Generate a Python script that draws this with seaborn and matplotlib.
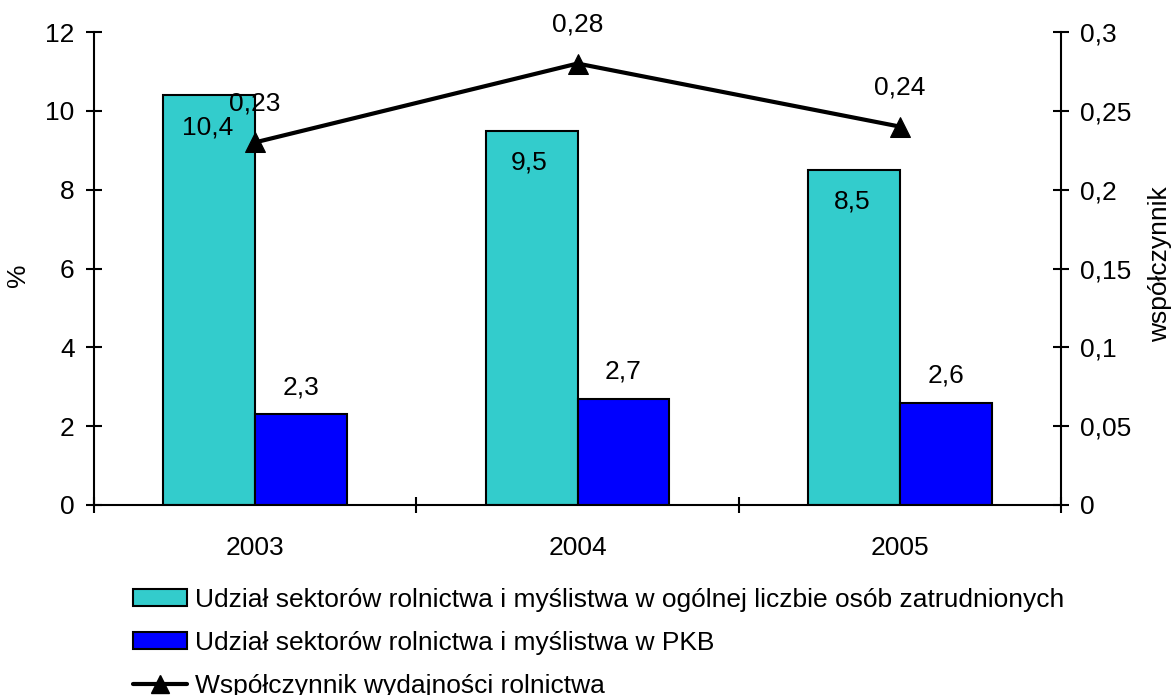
import numpy as np
import pandas as pd
import matplotlib
matplotlib.use("Agg")
import matplotlib.pyplot as plt
from matplotlib.patches import Patch
from matplotlib.lines import Line2D
from matplotlib.ticker import FuncFormatter, FixedLocator
import seaborn as sns

# data
years = ["2003", "2004", "2005"]
employment_share = [10.4, 9.5, 8.5]
gdp_share = [2.3, 2.7, 2.6]
productivity = [0.23, 0.28, 0.24]

label_emp = "Udział sektorów rolnictwa i myślistwa w ogólnej liczbie osób zatrudnionych"
label_gdp = "Udział sektorów rolnictwa i myślistwa w PKB"
label_prod = "Współczynnik wydajności rolnictwa"

df = pd.DataFrame({
    "year": years * 2,
    "value": employment_share + gdp_share,
    "series": [label_emp] * 3 + [label_gdp] * 3,
})

sns.set_style("white")
plt.rcParams["font.family"] = ["Liberation Sans", "DejaVu Sans"]
plt.rcParams["font.size"] = 19
plt.rcParams["text.color"] = "black"
plt.rcParams["axes.labelcolor"] = "black"
plt.rcParams["xtick.color"] = "black"
plt.rcParams["ytick.color"] = "black"

fig = plt.figure(figsize=(11.71, 6.95), dpi=100)
ax = fig.add_axes([94 / 1171, 1 - 505 / 695, (1061 - 94) / 1171, (505 - 32) / 695])

colors = ["#33CCCC", "#0000FF"]
sns.barplot(data=df, x="year", y="value", hue="series", palette=colors,
            width=0.57, gap=0, edgecolor="black", linewidth=1.5,
            saturation=1, ax=ax, legend=False)

ax.set_xlim(-0.5, 2.5)
ax.set_ylim(0, 12)
ax.set_yticks(np.arange(0, 13, 2))
ax.set_xlabel("")
ax.set_ylabel("")

ax2 = ax.twinx()
xpos = np.arange(len(years))
sns.lineplot(x=xpos, y=productivity, ax=ax2, color="black", linewidth=3,
             marker="^", markersize=15, markeredgecolor="black")
ax2.set_ylim(0, 0.3)
ax2.set_yticks(np.arange(0, 0.31, 0.05))
ax2.yaxis.set_major_formatter(FuncFormatter(lambda v, p: "{:g}".format(round(v, 2)).replace(".", ",")))
ax2.set_ylabel("")
ax.set_xlim(-0.5, 2.5)

# axis titles
fig.text(18 / 1171, 1 - 275 / 695, "%", rotation=90, ha="center", va="center")
fig.text(1160 / 1171, 1 - 264 / 695, "współczynnik", rotation=90, ha="center", va="center")

# spines / ticks
for a in (ax, ax2):
    for s in a.spines.values():
        s.set_linewidth(1.5)
        s.set_color("black")
    a.spines["top"].set_visible(False)
ax.spines["right"].set_visible(False)
ax2.spines["left"].set_visible(False)
ax2.spines["bottom"].set_visible(False)

ax.tick_params(axis="y", direction="inout", length=12, width=1.5, left=True, pad=8)
ax2.tick_params(axis="y", direction="inout", length=12, width=1.5, right=True, pad=8)
ax.tick_params(axis="x", which="major", length=0, pad=22)
ax.xaxis.set_minor_locator(FixedLocator([-0.5, 0.5, 1.5, 2.5]))
ax.tick_params(axis="x", which="minor", direction="inout", length=12, width=1.5, bottom=True)

# value labels
for i in range(len(years)):
    ax.annotate(f"{employment_share[i]:g}".replace(".", ","), (i - 0.57 / 4, employment_share[i]),
                xytext=(-2, -32), textcoords="offset pixels", ha="center", va="center")
    ax.annotate(f"{gdp_share[i]:g}".replace(".", ","), (i + 0.57 / 4, gdp_share[i]),
                xytext=(0, 27), textcoords="offset pixels", ha="center", va="center")
    ax2.annotate(f"{productivity[i]:g}".replace(".", ","), (i, productivity[i]),
                 xytext=(0, 39), textcoords="offset pixels", ha="center", va="center")

handles = [
    Patch(facecolor=colors[0], edgecolor="black", linewidth=1.5),
    Patch(facecolor=colors[1], edgecolor="black", linewidth=1.5),
    Line2D([], [], color="black", linewidth=3, marker="^", markersize=13),
]
fig.legend(handles, [label_emp, label_gdp, label_prod], loc="upper left",
           bbox_to_anchor=(133 / 1171, 1 - 588 / 695), frameon=False,
           handlelength=2.05, handleheight=0.6, handletextpad=0.3, labelspacing=0.72,
           borderaxespad=0, borderpad=0)

fig.savefig("out.png", dpi=100)
